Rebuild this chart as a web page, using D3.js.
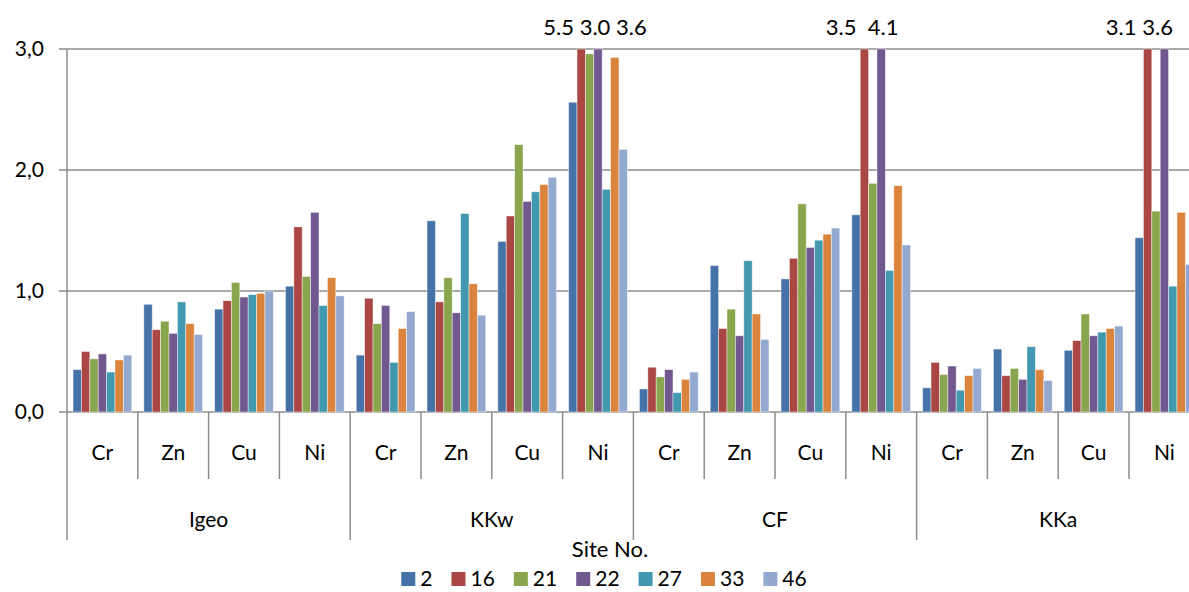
<!DOCTYPE html>
<html>
<head>
<meta charset="utf-8">
<script src="https://cdn.jsdelivr.net/npm/d3@7"></script>
<style>
  body { margin: 0; background: #fff; }
  text { font-family: Lato, "Open Sans", sans-serif; fill: #000; }
</style>
</head>
<body>
<div id="chart"></div>
<script>
// chart data
var groups = ["Igeo", "KKw", "CF", "KKa"];
var elements = ["Cr", "Zn", "Cu", "Ni"];
var sites = ["2", "16", "21", "22", "27", "33", "46"];

// one value per group x element, in order Igeo Cr..Ni, KKw Cr..Ni, CF ..., KKa ...
var site2  = [0.35, 0.89, 0.85, 1.04,  0.47, 1.58, 1.41, 2.56,  0.19, 1.21, 1.10, 1.63,  0.20, 0.52, 0.51, 1.44];
var site16 = [0.50, 0.68, 0.92, 1.53,  0.94, 0.91, 1.62, 5.50,  0.37, 0.69, 1.27, 3.50,  0.41, 0.30, 0.59, 3.10];
var site21 = [0.44, 0.75, 1.07, 1.12,  0.73, 1.11, 2.21, 2.96,  0.29, 0.85, 1.72, 1.89,  0.31, 0.36, 0.81, 1.66];
var site22 = [0.48, 0.65, 0.95, 1.65,  0.88, 0.82, 1.74, 3.60,  0.35, 0.63, 1.36, 4.10,  0.38, 0.27, 0.63, 3.60];
var site27 = [0.33, 0.91, 0.97, 0.88,  0.41, 1.64, 1.82, 1.84,  0.16, 1.25, 1.42, 1.17,  0.18, 0.54, 0.66, 1.04];
var site33 = [0.43, 0.73, 0.98, 1.11,  0.69, 1.06, 1.88, 2.93,  0.27, 0.81, 1.47, 1.87,  0.30, 0.35, 0.69, 1.65];
var site46 = [0.47, 0.64, 1.00, 0.96,  0.83, 0.80, 1.94, 2.17,  0.33, 0.60, 1.52, 1.38,  0.36, 0.26, 0.71, 1.22];
var seriesValues = [site2, site16, site21, site22, site27, site33, site46];

var yTicks = [0, 1, 2, 3];

// labels for bars cut off at the top of the axis
var annotations = [
  { group: "KKw", element: "Ni", text: "5.5 3.0 3.6" },
  { group: "CF",  element: "Ni", text: "3.5\u00a0\u00a04.1" },
  { group: "KKa", element: "Ni", text: "3.1 3.6" }
];

var colors = ["#4572A7", "#AA4643", "#89A54E", "#71588F", "#4198AF", "#DB843D", "#93A9CF"];

var W = 1189, H = 592;
var margin = { left: 67, top: 49, bottom: 412 };
var catW = 70.8;
var yMax = 3;

var svg = d3.select("#chart").append("svg")
    .attr("width", W)
    .attr("height", H);

// build the flat list of categories
var cats = [];
groups.forEach(function(g) {
  elements.forEach(function(e) { cats.push(g + "|" + e); });
});

var x = d3.scaleBand()
    .domain(cats)
    .range([margin.left, margin.left + catW * cats.length])
    .paddingInner(0).paddingOuter(0);

var xInner = d3.scaleBand()
    .domain(sites)
    .range([0, x.bandwidth()])
    .paddingInner(0)
    .paddingOuter(0.72);

var y = d3.scaleLinear()
    .domain([0, yMax])
    .range([margin.bottom, margin.top]);

// gridlines + y tick labels
svg.append("g").selectAll("line")
    .data(yTicks)
  .enter().append("line")
    .attr("x1", margin.left - 8)
    .attr("x2", W + 20)
    .attr("y1", function(d) { return y(d); })
    .attr("y2", function(d) { return y(d); })
    .attr("stroke", "#8c8c8c")
    .attr("stroke-width", 1.5);

svg.append("g").selectAll("text")
    .data(yTicks)
  .enter().append("text")
    .attr("x", 44)
    .attr("y", function(d) { return y(d); })
    .attr("dy", "0.35em")
    .attr("text-anchor", "end")
    .style("font-size", "21px")
    .text(function(d) { return d3.format(".1f")(d).replace(".", ","); });

// bars
var barData = [];
sites.forEach(function(s, si) {
  cats.forEach(function(c, ci) {
    barData.push({ site: s, si: si, cat: c, value: seriesValues[si][ci] });
  });
});

svg.append("g").selectAll("rect")
    .data(barData)
  .enter().append("rect")
    .attr("x", function(d) { return x(d.cat) + xInner(d.site); })
    .attr("width", xInner.bandwidth())
    .attr("y", function(d) { return y(Math.min(d.value, yMax)); })
    .attr("height", function(d) { return y(0) - y(Math.min(d.value, yMax)); })
    .attr("fill", function(d) { return colors[d.si]; })
    .attr("stroke", "#ffffff")
    .attr("stroke-opacity", 0.55)
    .attr("stroke-width", 0.8);

// y axis line
svg.append("line")
    .attr("x1", margin.left).attr("x2", margin.left)
    .attr("y1", margin.top).attr("y2", 540)
    .attr("stroke", "#8c8c8c").attr("stroke-width", 1.5);

// category separators
svg.append("g").selectAll("line")
    .data(cats.slice(1))
  .enter().append("line")
    .attr("x1", function(d) { return x(d); })
    .attr("x2", function(d) { return x(d); })
    .attr("y1", margin.bottom)
    .attr("y2", function(d) { return d.split("|")[1] === elements[0] ? 540 : 479; })
    .attr("stroke", "#8c8c8c")
    .attr("stroke-width", 1.5);

// element labels
svg.append("g").selectAll("text")
    .data(cats)
  .enter().append("text")
    .attr("x", function(d) { return x(d) + x.bandwidth() / 2; })
    .attr("y", 453)
    .attr("dy", "0.35em")
    .attr("text-anchor", "middle")
    .style("font-size", "21px")
    .text(function(d) { return d.split("|")[1]; });

// group labels
svg.append("g").selectAll("text")
    .data(groups)
  .enter().append("text")
    .attr("x", function(g) { return x(g + "|" + elements[0]) + catW * elements.length / 2; })
    .attr("y", 520)
    .attr("dy", "0.35em")
    .attr("text-anchor", "middle")
    .style("font-size", "21px")
    .text(function(g) { return g; });

// annotations above clipped bars
var annOffsets = [-3, -19, -25];
svg.append("g").selectAll("text")
    .data(annotations)
  .enter().append("text")
    .attr("x", function(d, i) { return x(d.group + "|" + d.element) + x.bandwidth() / 2 + annOffsets[i]; })
    .attr("y", 27)
    .attr("dy", "0.35em")
    .attr("text-anchor", "middle")
    .style("font-size", "22px")
    .text(function(d) { return d.text; });

// axis title
svg.append("text")
    .attr("x", 610)
    .attr("y", 549)
    .attr("dy", "0.35em")
    .attr("text-anchor", "middle")
    .style("font-size", "22px")
    .text("Site No.");

// legend
var legend = svg.append("g");
var lx = 0;
sites.forEach(function(s, i) {
  var item = legend.append("g").attr("transform", "translate(" + lx + ",0)");
  item.append("rect")
      .attr("x", 0).attr("y", -7)
      .attr("width", 14).attr("height", 14)
      .attr("fill", colors[i]);
  var t = item.append("text")
      .attr("x", 19).attr("y", 0)
      .attr("dy", "0.35em")
      .style("font-size", "21px")
      .text(s);
  lx += 19 + t.node().getComputedTextLength() + 19;
});
lx -= 19;
legend.attr("transform", "translate(" + (604 - lx / 2) + ",579)");
</script>
</body>
</html>
